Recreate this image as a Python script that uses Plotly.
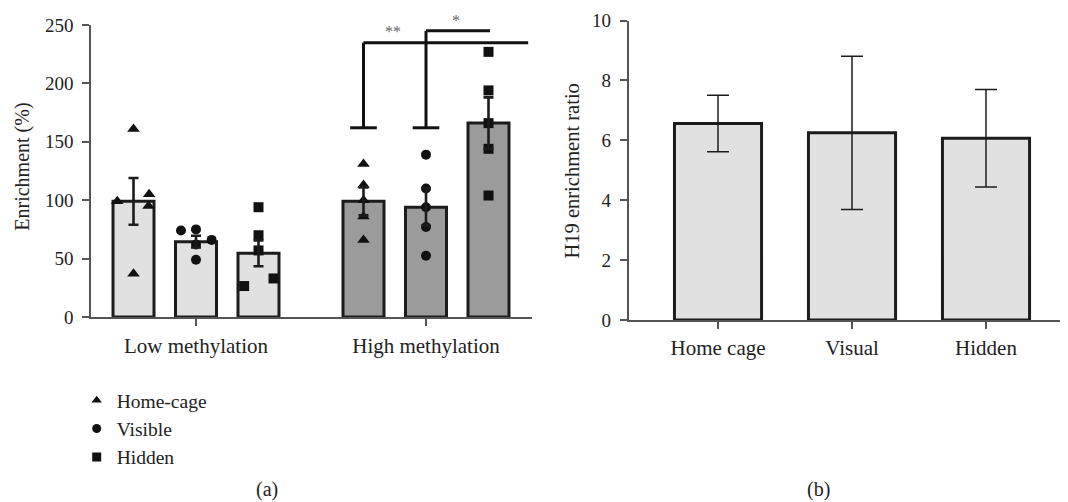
import plotly.graph_objects as go

# ---------------- data: panel (a) ----------------
groups = ["Low methylation", "High methylation"]
conditions = ["Home-cage", "Visible", "Hidden"]

low_home_pts = [161, 99, 105, 95, 37]
low_visible_pts = [74, 75, 62, 66, 49]
low_hidden_pts = [94, 70, 57, 33, 26.5]
high_home_pts = [131, 113, 100, 86, 66]
high_visible_pts = [139, 110, 94, 77, 52.5]
high_hidden_pts = [227, 194, 166, 144, 104]

low_means = [99, 64.5, 54.5]
high_means = [99, 94, 166]
low_sem = [20, 5, 11]
high_sem = [12, 16, 22]

sig_labels = ["**", "*"]

# ---------------- data: panel (b) ----------------
b_categories = ["Home cage", "Visual", "Hidden"]
b_means = [6.56, 6.25, 6.07]
b_err = [0.94, 2.56, 1.63]

# ---------------- layout constants ----------------
# page has an 8px body margin; figure is sized/positioned to compensate
OFF = 8
W, H = 1060, 494


def px(x):
    return (x - OFF) / W


def py(y):
    return 1 - (y - OFF) / H


FONT = "Liberation Serif"
TXT = "#222222"
LIGHT = "#e1e1e1"
DARK = "#9b9b9b"
EDGE = "#1c1c1c"
AXIS = "#555555"

group_centers = [1.0, 4.68]
offsets = [-1.0, 0.0, 1.0]
bar_w = 0.656
jitter = {
    (0, 0): [0, -0.26, 0.25, 0.24, 0],
    (0, 1): [-0.24, 0, 0, 0.25, 0],
    (0, 2): [0, 0, 0, 0.24, -0.23],
    (1, 0): [0, 0, 0, 0, 0],
    (1, 1): [0, 0, 0, 0, 0],
    (1, 2): [0, 0, 0, 0, 0],
}
symbols = ["triangle-up", "circle", "square"]
sizes = [11, 10, 10]

points = {
    (0, 0): low_home_pts, (0, 1): low_visible_pts, (0, 2): low_hidden_pts,
    (1, 0): high_home_pts, (1, 1): high_visible_pts, (1, 2): high_hidden_pts,
}
means = [low_means, high_means]
sems = [low_sem, high_sem]
fills = [LIGHT, DARK]

fig = go.Figure()

# bars (a)
for gi in range(2):
    xs = [group_centers[gi] + o for o in offsets]
    fig.add_trace(go.Bar(
        x=xs, y=means[gi], width=bar_w,
        marker=dict(color=fills[gi], line=dict(color=EDGE, width=3)),
        showlegend=False, xaxis="x", yaxis="y", hoverinfo="skip",
    ))

# individual points (a)
for gi in range(2):
    for ci in range(3):
        base = group_centers[gi] + offsets[ci]
        pts = points[(gi, ci)]
        xs = [base + j for j in jitter[(gi, ci)]]
        fig.add_trace(go.Scatter(
            x=xs, y=pts, mode="markers",
            marker=dict(symbol=symbols[ci], size=sizes[ci], color="#111111"),
            showlegend=False, xaxis="x", yaxis="y", cliponaxis=False,
        ))

# error bars (a)
for gi in range(2):
    xs = [group_centers[gi] + o for o in offsets]
    fig.add_trace(go.Scatter(
        x=xs, y=means[gi], mode="markers",
        marker=dict(size=1, opacity=0),
        error_y=dict(type="data", array=sems[gi], color="#1c1c1c",
                     thickness=2.6, width=5),
        showlegend=False, xaxis="x", yaxis="y",
    ))

# legend entries
for ci in range(3):
    fig.add_trace(go.Scatter(
        x=[None], y=[None], mode="markers", name=conditions[ci],
        marker=dict(symbol=symbols[ci], size=9, color="#111111"),
        xaxis="x", yaxis="y",
    ))

# bars (b)
fig.add_trace(go.Bar(
    x=b_categories, y=b_means, width=0.65,
    marker=dict(color=LIGHT, line=dict(color=EDGE, width=3)),
    error_y=dict(type="data", array=b_err, color="#1c1c1c", thickness=1.5, width=11),
    showlegend=False, xaxis="x2", yaxis="y2",
))

# significance brackets (a)
hi = group_centers[1]
br = [
    (hi + offsets[0], 162, 234.8, hi + 1.635),
    (hi + offsets[1], 162, 245, hi + offsets[2] + 0.024),
]
shapes = []
for x0, yb, yt, xend in br:
    line = dict(color="#111111", width=3)
    shapes.append(dict(type="line", xref="x", yref="y", x0=x0 - 0.213, x1=x0 + 0.213, y0=yb, y1=yb, line=line))
    shapes.append(dict(type="line", xref="x", yref="y", x0=x0, x1=x0, y0=yb, y1=yt, line=line))
    shapes.append(dict(type="line", xref="x", yref="y", x0=x0, x1=xend, y0=yt, y1=yt, line=line))

annotations = [
    dict(text=sig_labels[0], x=hi - 0.53, y=234.8, yshift=11, xref="x", yref="y", showarrow=False,
         font=dict(family=FONT, size=16, color="#666666")),
    dict(text=sig_labels[1], x=hi + 0.48, y=245, yshift=10, xref="x", yref="y", showarrow=False,
         font=dict(family=FONT, size=16, color="#666666")),
    dict(text="Enrichment (%)", textangle=-90, x=px(23), y=py(166.7),
         xref="paper", yref="paper", showarrow=False, xanchor="center", yanchor="middle",
         font=dict(family=FONT, size=20, color=TXT)),
    dict(text="H19 enrichment ratio", textangle=-90, x=px(571.7), y=py(170.8),
         xref="paper", yref="paper", showarrow=False, xanchor="center", yanchor="middle",
         font=dict(family=FONT, size=20.5, color=TXT)),
    dict(text="(a)", x=px(266.7), y=py(489.5), xref="paper", yref="paper",
         showarrow=False, xanchor="center", yanchor="middle",
         font=dict(family=FONT, size=20, color=TXT)),
    dict(text="(b)", x=px(818), y=py(489.5), xref="paper", yref="paper",
         showarrow=False, xanchor="center", yanchor="middle",
         font=dict(family=FONT, size=20, color=TXT)),
]

axis_common = dict(showline=True, linecolor=AXIS, linewidth=1.5, ticks="outside",
                   ticklen=7, tickcolor=AXIS, tickwidth=1.5, showgrid=False, zeroline=False,
                   automargin=False)
xfont = dict(family=FONT, size=21, color=TXT)
yfont = dict(family=FONT, size=19, color=TXT)

fig.update_layout(
    template="none",
    width=W, height=H,
    margin=dict(l=0, r=0, t=0, b=0, pad=0),
    paper_bgcolor="white", plot_bgcolor="white",
    barmode="overlay",
    shapes=shapes,
    annotations=annotations,
    xaxis=dict(domain=[px(91), px(532)], range=[-0.68, 6.376],
               tickvals=group_centers, ticktext=groups, ticklabelstandoff=2,
               tickfont=xfont, **axis_common),
    yaxis=dict(domain=[py(317), py(25)], range=[0, 250],
               tickvals=[0, 50, 100, 150, 200, 250], ticklabelstandoff=5,
               tickfont=yfont, **axis_common),
    xaxis2=dict(domain=[px(628.5), px(1066)], range=[-0.668, 2.597],
                anchor="y2", ticklabelstandoff=1, tickfont=xfont, **axis_common),
    yaxis2=dict(domain=[py(320), py(20.5)], range=[0, 10],
                tickvals=[0, 2, 4, 6, 8, 10], anchor="x2", ticklabelstandoff=5,
                tickfont=yfont, **axis_common),
    legend=dict(x=px(76.7), y=py(381), xanchor="left", yanchor="top",
                font=dict(family=FONT, size=19.5, color=TXT),
                bgcolor="rgba(0,0,0,0)", tracegroupgap=0, itemwidth=30),
    showlegend=True,
)

fig.write_html("out.html")
